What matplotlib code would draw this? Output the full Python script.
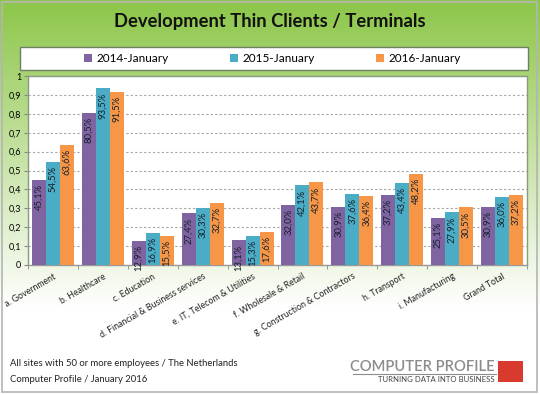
import numpy as np
import matplotlib
matplotlib.use("Agg")
import matplotlib.pyplot as plt
from matplotlib.patches import Rectangle
from matplotlib.ticker import FixedLocator, FuncFormatter

plt.rcParams["font.family"] = ["Lato", "DejaVu Sans"]

# data
categories = ["a. Government", "b. Healthcare", "c. Education",
              "d. Financial & Business services", "e. IT, Telecom & Utilities",
              "f. Wholesale & Retail", "g. Construction & Contractors",
              "h. Transport", "i. Manufacturing", "Grand Total"]
series_names = ["2014-January", "2015-January", "2016-January"]
jan_2014 = [0.451, 0.805, 0.129, 0.274, 0.131, 0.320, 0.309, 0.372, 0.251, 0.309]
jan_2015 = [0.545, 0.935, 0.169, 0.303, 0.153, 0.421, 0.376, 0.434, 0.279, 0.360]
jan_2016 = [0.636, 0.915, 0.155, 0.327, 0.176, 0.437, 0.364, 0.482, 0.305, 0.372]
colors = ["#8064A2", "#4BACC6", "#F79646"]

fig = plt.figure(figsize=(5.4, 3.95), dpi=100)
W, H = 540, 395

# green gradient background
bg = fig.add_axes([0, 0, 1, 1], zorder=-2)
t = np.clip(np.linspace(0, 1, 400) / 0.78, 0, 1)[:, None]
top = np.array([140, 198, 72]) / 255
grad = top[None, None, :] * (1 - t[:, :, None]) + np.ones(3)[None, None, :] * t[:, :, None]
bg.imshow(grad, aspect="auto", extent=[0, 1, 0, 1], origin="upper")
bg.add_patch(Rectangle((2 / W, 3 / H), 535 / W, 390 / H, fill=False,
                       edgecolor="#b4b4b4", lw=1.2))
bg.set_xlim(0, 1)
bg.set_ylim(0, 1)
bg.axis("off")

# main plot area
ax = fig.add_axes([28 / W, 1 - 265 / H, 499 / W, 189 / H])
ax.set_facecolor("white")
x = np.arange(len(categories))
w = 0.28
for i, (vals, name) in enumerate(zip([jan_2014, jan_2015, jan_2016], series_names)):
    bars = ax.bar(x + (i - 1) * w, vals, w, color=colors[i], label=name, zorder=3)
    for b, v in zip(bars, vals):
        ax.annotate(f"{v * 100:.1f}%".replace(".", ","),
                    (b.get_x() + b.get_width() / 2, v), xytext=(0, -3),
                    textcoords="offset points", rotation=90, ha="center",
                    va="top", fontsize=6.8, color="#16202b", zorder=4)

ax.set_xlim(-0.5, len(categories) - 0.5)
ax.set_ylim(0, 1)
ax.set_yticks(np.arange(0, 1.01, 0.1))
ax.yaxis.set_major_formatter(FuncFormatter(
    lambda v, p: "0" if v < 0.05 else ("1" if v > 0.95 else f"{v:.1f}".replace(".", ","))))
ax.tick_params(axis="y", labelsize=6.5, length=3, color="#888888", pad=2)
ax.set_xticks(x)
ax.set_xticklabels(categories, rotation=30, ha="right", rotation_mode="anchor",
                   fontsize=6.3, color="#222222")
ax.tick_params(axis="x", length=0, pad=5)
ax.xaxis.set_minor_locator(FixedLocator(np.arange(-0.5, len(categories), 1)))
ax.tick_params(axis="x", which="minor", length=3, color="#888888")
ax.grid(axis="y", linestyle=(0, (2, 2)), color="#a6a6a6", lw=0.8, zorder=0)
for s in ax.spines.values():
    s.set_color("#8a9a80")
    s.set_linewidth(1)
ax.spines["bottom"].set_color("#999999")

# title
fig.text(0.5, 1 - 22 / H, "Development Thin Clients / Terminals", ha="center",
         va="center", fontsize=13.2, fontweight="bold", color="#111111")

# legend box
fig.patches.append(Rectangle((20 / W, 1 - 70 / H), 508 / W, 23 / H,
                             transform=fig.transFigure, facecolor="white",
                             edgecolor="#6f7f66", lw=1, zorder=1))
handles, labels = ax.get_legend_handles_labels()
leg = fig.legend(handles, labels, loc="center", ncol=3,
                 bbox_to_anchor=(272 / W, 1 - 58.5 / H), frameon=False,
                 fontsize=8.5, handlelength=0.7, handleheight=0.7,
                 handletextpad=0.35, columnspacing=5.2)
leg.set_zorder(2)

# footer
fig.text(10 / W, 1 - 364 / H, "All sites with 50 or more employees / The Netherlands",
         fontsize=6.8, color="#222222", va="center")
fig.text(10 / W, 1 - 380 / H, "Computer Profile / January 2016",
         fontsize=6.8, color="#222222", va="center")

# logo
fig.text(495 / W, 1 - 367 / H, "COMPUTER PROFILE", ha="right", va="center",
         fontsize=10.6, fontweight="semibold", color="#8c8c8c")
fig.lines.append(plt.Line2D([353 / W, 496 / W], [1 - 373.5 / H, 1 - 373.5 / H],
                            transform=fig.transFigure, color="#8c8c8c", lw=0.8))
fig.text(495 / W, 1 - 379 / H, "TURNING DATA INTO BUSINESS", ha="right",
         va="center", fontsize=5.6, color="#444444")
fig.patches.append(Rectangle((498 / W, 1 - 382 / H), 25 / W, 21 / H,
                             transform=fig.transFigure, facecolor="#d93a2e",
                             edgecolor="none"))

fig.savefig("out.png", dpi=100)
